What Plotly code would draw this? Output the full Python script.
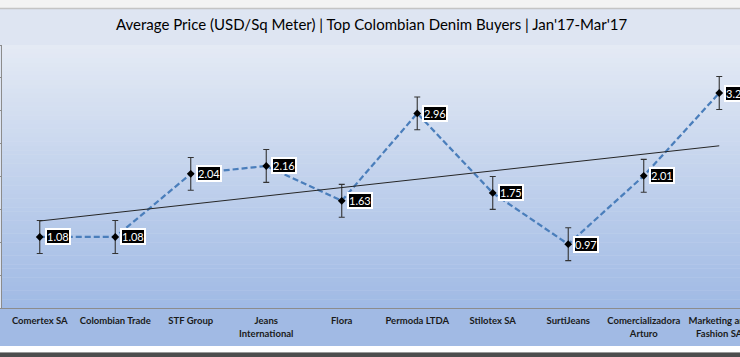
import numpy as np
import plotly.graph_objects as go

# ---- data ----
buyers = ["Comertex SA", "Colombian Trade", "STF Group", "Jeans<br>International", "Flora",
          "Permoda LTDA", "Stilotex SA", "SurtiJeans", "Comercializadora<br>Arturo",
          "Marketing and<br>Fashion SA"]
avg_price = [1.08, 1.08, 2.04, 2.16, 1.63, 2.96, 1.75, 0.97, 2.01, 3.27]
price_labels = ["1.08", "1.08", "2.04", "2.16", "1.63", "2.96", "1.75", "0.97", "2.01", "3.27"]
error_margin = [0.25, 0.25, 0.25, 0.25, 0.25, 0.25, 0.25, 0.25, 0.25, 0.25]
title_text = "Average Price (USD/Sq Meter) | Top Colombian Denim Buyers | Jan'17-Mar'17"

W, H = 740, 357
PLOT_TOP, PLOT_BOTTOM = 45, 308
ML, MR = 2, 0
plot_h = PLOT_BOTTOM - PLOT_TOP


def py(px):
    """pixel y (from top) -> paper y"""
    return (PLOT_BOTTOM - px) / plot_h


fig = go.Figure()

fig.add_trace(go.Scatter(
    x=buyers, y=avg_price, mode="lines+markers",
    line=dict(color="#4a7ebb", width=2.25, dash="6px,3px"),
    marker=dict(symbol="diamond", size=6, color="#000000"),
    error_y=dict(type="data", array=error_margin, visible=True,
                 color="#333333", thickness=1.1, width=3),
    showlegend=False, cliponaxis=False))

# linear trend line (least squares on the series)
idx = np.arange(len(avg_price))
slope, intercept = np.polyfit(idx, np.array(avg_price), 1)
fig.add_trace(go.Scatter(
    x=[buyers[0], buyers[-1]],
    y=[intercept, intercept + slope * idx[-1]],
    mode="lines", line=dict(color="#262626", width=1),
    hoverinfo="skip", showlegend=False, cliponaxis=False))

# data labels
for b, v, t in zip(buyers, avg_price, price_labels):
    fig.add_annotation(x=b, y=v, text=t, showarrow=False, xanchor="left", yanchor="middle",
                       xshift=5, bgcolor="#000000", bordercolor="#ffffff", borderwidth=2,
                       borderpad=0, font=dict(family="Lato", size=11, color="#ffffff"))

# title
fig.add_annotation(xref="paper", yref="paper", x=0.5, y=py(24), text=title_text,
                   showarrow=False, xanchor="center", yanchor="middle",
                   font=dict(family="Lato", size=15, color="#000000"))

shapes = []
# gradient in plot area
top_c = np.array([229, 235, 245])
bot_c = np.array([160, 186, 229])
n = 60
for i in range(n):
    f0 = i / n
    f1 = (i + 1) / n
    c = top_c + (bot_c - top_c) * ((f0 + f1) / 2)
    shapes.append(dict(type="rect", xref="paper", yref="paper", x0=0, x1=1,
                       y0=1 - f1 - 0.001, y1=1 - f0, line=dict(width=0),
                       fillcolor="rgb(%d,%d,%d)" % tuple(c.astype(int)), layer="below"))
# top strip
shapes.append(dict(type="rect", xref="paper", yref="paper", x0=-0.01, x1=1.01,
                   y0=py(8), y1=py(-2), line=dict(width=0), fillcolor="#f3f3f3", layer="below"))
shapes.append(dict(type="line", xref="paper", yref="paper", x0=-0.01, x1=1.01,
                   y0=py(8.5), y1=py(8.5), line=dict(width=1.5, color="#c4c4c4"), layer="below"))
# category band
shapes.append(dict(type="rect", xref="paper", yref="paper", x0=-0.01, x1=1.01,
                   y0=py(346), y1=py(308), line=dict(width=0), fillcolor="#a1bae4", layer="below"))
shapes.append(dict(type="rect", xref="paper", yref="paper", x0=-0.01, x1=1.01,
                   y0=py(352), y1=py(346), line=dict(width=0), fillcolor="#ffffff", layer="below"))
shapes.append(dict(type="rect", xref="paper", yref="paper", x0=-0.01, x1=1.01,
                   y0=py(358), y1=py(352), line=dict(width=0), fillcolor="#4d4d4d", layer="below"))
shapes.append(dict(type="line", xref="paper", yref="paper", x0=-0.01, x1=1.01,
                   y0=py(352.5), y1=py(352.5), line=dict(width=1, color="#9a9a9a"), layer="below"))

fig.update_layout(
    width=W, height=H,
    margin=dict(l=ML, r=MR, t=PLOT_TOP, b=H - PLOT_BOTTOM, pad=0),
    paper_bgcolor="#dee5f2", plot_bgcolor="rgba(0,0,0,0)",
    shapes=shapes, showlegend=False,
    xaxis=dict(type="category", categoryorder="array", categoryarray=buyers,
               range=[-0.5, 9.275], showgrid=False, zeroline=False,
               showline=True, linecolor="#8c8c8c", linewidth=1, ticks="",
               tickfont=dict(family="Lato", size=9.5, color="#1a1a1a", weight="bold"),
               ticklabelstandoff=4, automargin=False, tickangle=0),
    yaxis=dict(range=[0, 4], dtick=0.5, showgrid=False, zeroline=False,
               showline=True, linecolor="#8c8c8c", linewidth=1,
               ticks="outside", ticklen=3, tickcolor="#8c8c8c",
               showticklabels=False, automargin=False),
)

fig.write_html("out.html", config={"displayModeBar": False},
               post_script="document.body.style.margin='0';document.body.style.overflow='hidden';")
